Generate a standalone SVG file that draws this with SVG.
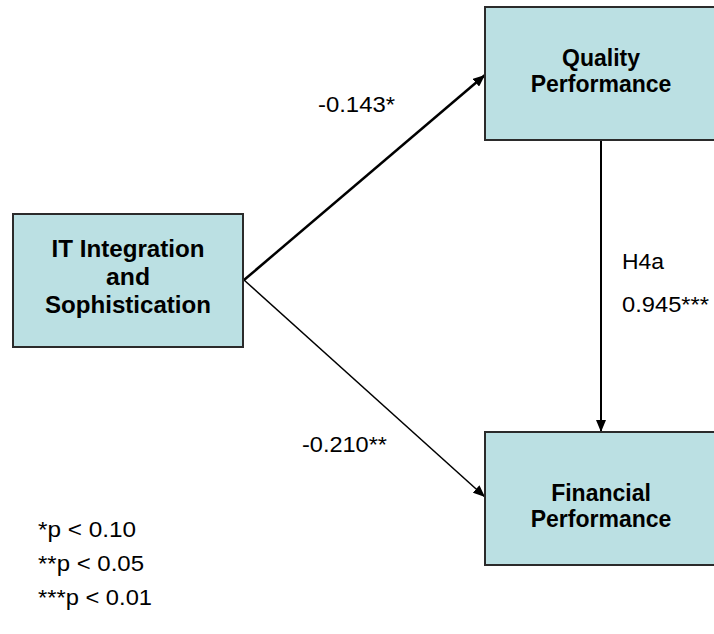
<svg xmlns="http://www.w3.org/2000/svg" width="714" height="634" viewBox="0 0 714 634">
  <style>
    .box { fill: #BBE0E3; stroke: #2b2b2b; stroke-width: 2; }
    .title { font-family: "Liberation Sans", Arial, sans-serif; font-weight: bold; font-size: 23px; fill: #000; text-anchor: middle; }
    .label { font-family: "Liberation Sans", Arial, sans-serif; font-size: 22px; fill: #000; }
    .link { fill: none; stroke: #000; }
  </style>
  <defs>
    <marker id="arrow" viewBox="0 0 12 10" refX="12" refY="5" markerWidth="12" markerHeight="10" markerUnits="userSpaceOnUse" orient="auto">
      <path d="M0,0 L12,5 L0,10 Z" fill="#000"/>
    </marker>
  </defs>

  <rect width="714" height="634" fill="#fff"/>

  <!-- connectors -->
  <g id="connectors">
    <line class="link" x1="244" y1="280" x2="485" y2="75" stroke-width="2.5" marker-end="url(#arrow)"/>
    <line class="link" x1="244" y1="280" x2="485" y2="497" stroke-width="1.5" marker-end="url(#arrow)"/>
    <line class="link" x1="601" y1="141" x2="601" y2="432" stroke-width="2" marker-end="url(#arrow)"/>
  </g>

  <g id="it-integration">
    <rect class="box" x="13" y="214" width="230" height="133"/>
    <text class="title" x="128" y="257" textLength="153" lengthAdjust="spacingAndGlyphs">IT Integration</text>
    <text class="title" x="128" y="285" textLength="44" lengthAdjust="spacingAndGlyphs">and</text>
    <text class="title" x="128" y="313" textLength="166" lengthAdjust="spacingAndGlyphs">Sophistication</text>
  </g>

  <g id="quality-performance">
    <rect class="box" x="485" y="7" width="232" height="133"/>
    <text class="title" x="601" y="66">Quality</text>
    <text class="title" x="601" y="92">Performance</text>
  </g>

  <g id="financial-performance">
    <rect class="box" x="485" y="432" width="232" height="133"/>
    <text class="title" x="601" y="501">Financial</text>
    <text class="title" x="601" y="527">Performance</text>
  </g>

  <g id="edge-labels">
    <text class="label" x="318" y="112" textLength="77" lengthAdjust="spacingAndGlyphs">-0.143*</text>
    <text class="label" x="302" y="452" textLength="85" lengthAdjust="spacingAndGlyphs">-0.210**</text>
    <text class="label" x="622" y="269" textLength="42" lengthAdjust="spacingAndGlyphs">H4a</text>
    <text class="label" x="622" y="312" textLength="87" lengthAdjust="spacingAndGlyphs">0.945***</text>
  </g>

  <g id="legend">
    <text class="label" x="38" y="537" textLength="98" lengthAdjust="spacingAndGlyphs">*p &lt; 0.10</text>
    <text class="label" x="38" y="571" textLength="106" lengthAdjust="spacingAndGlyphs">**p &lt; 0.05</text>
    <text class="label" x="38" y="605" textLength="114" lengthAdjust="spacingAndGlyphs">***p &lt; 0.01</text>
  </g>
</svg>
